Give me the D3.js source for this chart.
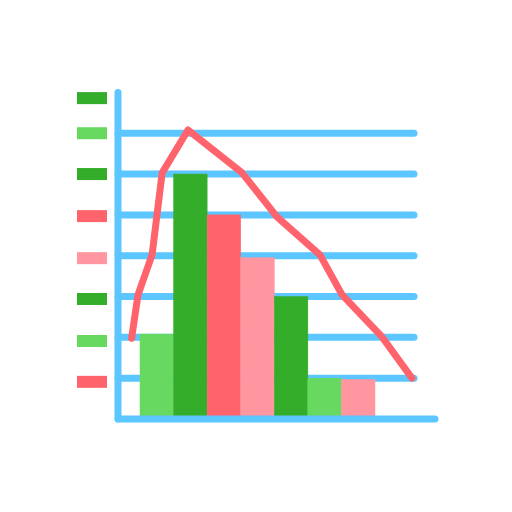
<!DOCTYPE html>
<html>
<head>
<meta charset="utf-8">
<script src="https://cdn.jsdelivr.net/npm/d3@7"></script>
<style>
  body { margin: 0; background: #fff; }
</style>
</head>
<body>
<svg id="chart" width="512" height="512"></svg>
<script>
var svg = d3.select("#chart");

// colours
var darkGreen = "#34AD2B",
  lightGreen = "#68D960",
  red = "#FF646D",
  pink = "#FF96A0",
  blue = "#5BC6FF";

// bars
var barColors = [lightGreen, darkGreen, red, pink, darkGreen, lightGreen, pink];
var barValues = [2.08, 6, 5, 3.95, 3, 1, 0.97];

// line (x in bar units, y in value units)
var lineX = [-0.25, -0.06, 0.36, 0.66, 1.43, 3.04, 4.08, 5.36, 6.02, 7.21, 8.1];
var lineY = [1.98, 3.04, 4.02, 6.03, 7.08, 6.03, 4.95, 4.02, 3.04, 2.01, 1.0];

// grid levels
var gridLevels = [1, 2, 3, 4, 5, 6, 7];

// legend swatches
var legendColors = [darkGreen, lightGreen, darkGreen, red, pink, darkGreen, lightGreen, red];
var legendLevels = [7.86, 7, 6, 4.97, 3.94, 2.94, 1.91, 0.91];

var y = d3.scaleLinear().domain([0, 8]).range([419, 92.4]);
var x = d3.scaleLinear().domain([0, 7]).range([140, 375]);

// grid lines
svg.append("g").selectAll("line").data(gridLevels).enter().append("line")
  .attr("x1", 118).attr("x2", 414)
  .attr("y1", function(d) { return y(d); })
  .attr("y2", function(d) { return y(d); })
  .attr("stroke", blue)
  .attr("stroke-width", 7)
  .attr("stroke-linecap", "round");

// bars
svg.append("g").selectAll("rect").data(barValues).enter().append("rect")
  .attr("x", function(d, i) { return x(i); })
  .attr("width", function(d, i) { return x(i + 1) - x(i); })
  .attr("y", function(d) { return y(d); })
  .attr("height", function(d) { return y(0) - y(d); })
  .attr("fill", function(d, i) { return barColors[i]; })
  .attr("stroke", function(d, i) { return barColors[i]; })
  .attr("stroke-width", 0.5);

// axes
svg.append("line")
  .attr("x1", 118).attr("x2", 118)
  .attr("y1", y(8)).attr("y2", y(0))
  .attr("stroke", blue).attr("stroke-width", 7).attr("stroke-linecap", "round");
svg.append("line")
  .attr("x1", 118).attr("x2", 435)
  .attr("y1", y(0)).attr("y2", y(0))
  .attr("stroke", blue).attr("stroke-width", 7).attr("stroke-linecap", "round");

// legend
svg.append("g").selectAll("rect").data(legendLevels).enter().append("rect")
  .attr("x", 77).attr("width", 30)
  .attr("y", function(d) { return y(d) - 6; })
  .attr("height", 12)
  .attr("fill", function(d, i) { return legendColors[i]; });

// line
var pts = lineX.map(function(d, i) { return [d, lineY[i]]; });
svg.append("path")
  .datum(pts)
  .attr("d", d3.line().x(function(d) { return x(d[0]); }).y(function(d) { return y(d[1]); }))
  .attr("fill", "none")
  .attr("stroke", red)
  .attr("stroke-width", 7)
  .attr("stroke-linecap", "round")
  .attr("stroke-linejoin", "round");
</script>
</body>
</html>
